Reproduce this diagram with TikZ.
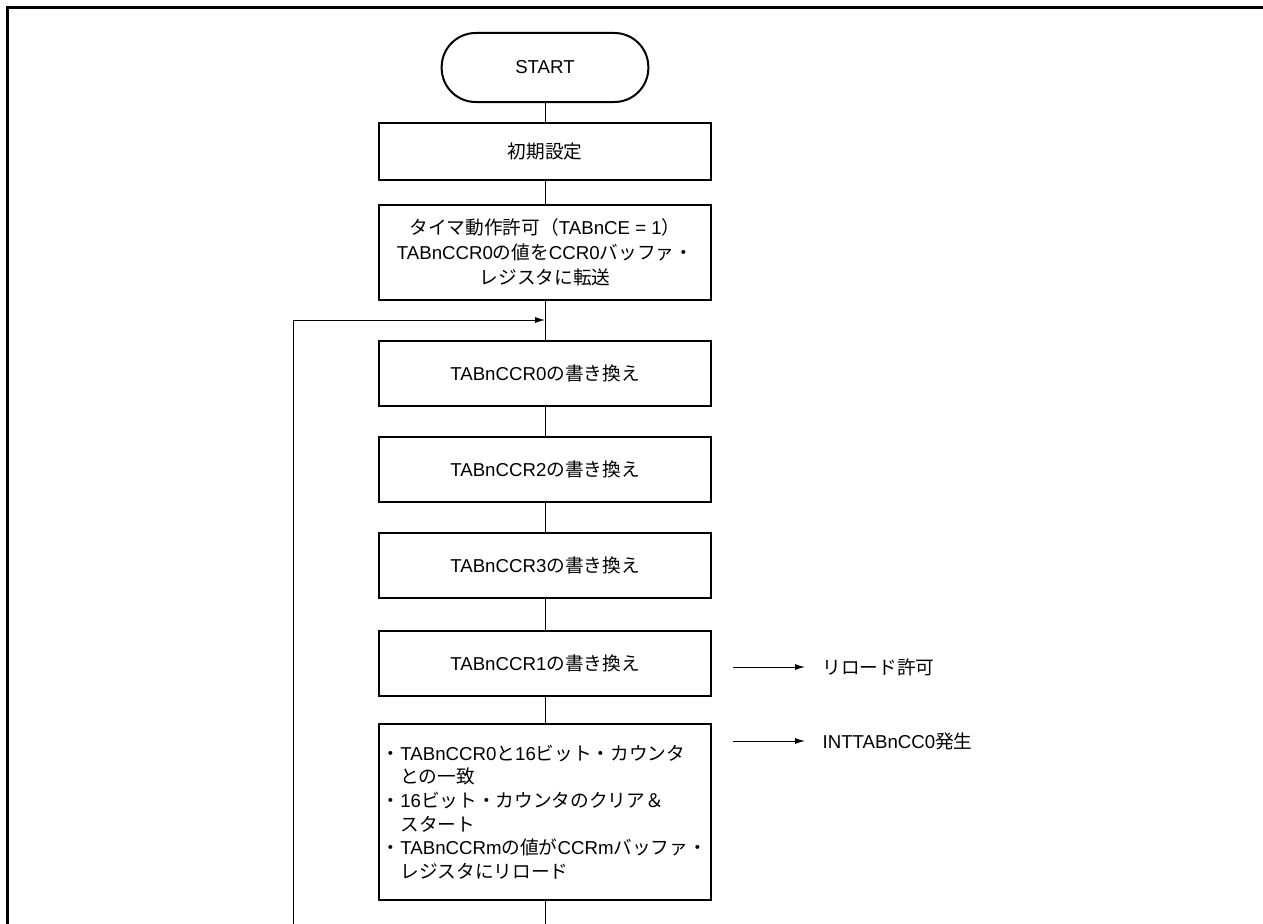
\documentclass[tikz,border=0pt]{standalone}
\usepackage{fontspec}
\setmainfont{Liberation Sans}
\newfontfamily\jpfont{Noto Sans CJK JP}
\newcommand{\jp}[1]{{\jpfont #1}}
\usetikzlibrary{arrows.meta,positioning}

\tikzset{
  procbox/.style={draw,line width=1.5pt,outer sep=0pt,minimum width=249pt,minimum height=48.75pt,inner sep=0pt,align=center},
  flowline/.style={line width=0.75pt},
  sidelbl/.style={anchor=west,inner xsep=13pt,inner ysep=0pt},
}

\begin{document}
\begin{tikzpicture}[x=0.75pt,y=-0.75pt,font=\fontsize{14pt}{18.75pt}\selectfont,>={Latex[length=7.5pt,width=4.5pt]}]
  \useasboundingbox (0,0) rectangle (1263,924);
  % frame
  \draw[line width=2.25pt] (7,924) -- (7,8) -- (1263,8);
  % flow
  \node[draw,line width=1.5pt,outer sep=0pt,rounded corners=25.5pt,minimum width=155pt,minimum height=51.75pt] (start) at (545,67.5) {START};
  \node[procbox,minimum height=42.75pt,below=15.75pt of start] (init) {\jp{初期設定}};
  \node[procbox,minimum height=71.25pt,below=18.75pt of init] (xfer) {\jp{タイマ動作許可（}TABnCE = 1\jp{）}\\TABnCCR0\jp{の値を}CCR0\jp{バッファ・}\\\jp{レジスタに転送}};
  \node[procbox,below=30.75pt of xfer] (ccr0) {TABnCCR0\jp{の書き換え}};
  \node[procbox,below=23.25pt of ccr0] (ccr2) {TABnCCR2\jp{の書き換え}};
  \node[procbox,below=23.25pt of ccr2] (ccr3) {TABnCCR3\jp{の書き換え}};
  \node[procbox,below=24.75pt of ccr3] (ccr1) {TABnCCR1\jp{の書き換え}};
  \node[procbox,minimum height=132pt,align=left,text width=245pt,inner xsep=2pt,below=21pt of ccr1,font=\fontsize{14pt}{17.7pt}\selectfont] (match) {\jp{・}TABnCCR0\jp{と}16\jp{ビット・カウンタ}\\\jp{　との一致}\\\jp{・}16\jp{ビット・カウンタのクリア＆}\\\jp{　スタート}\\\jp{・}TABnCCRm\jp{の値が}CCRm\jp{バッファ・}\\\jp{　レジスタにリロード}};
  \draw[flowline] (start) -- (init);
  \draw[flowline] (init) -- (xfer);
  \draw[flowline] (xfer) -- (ccr0);
  \draw[flowline] (ccr0) -- (ccr2);
  \draw[flowline] (ccr2) -- (ccr3);
  \draw[flowline] (ccr3) -- (ccr1);
  \draw[flowline] (ccr1) -- (match);
  \coordinate (bot) at (545,924);
  \draw[flowline] (match) -- (bot);
  % loop back
  \coordinate (loopend) at (293,924);
  \coordinate (loopin) at (545,320);
  \draw[flowline,->] (loopend) |- (loopin);
  % side notes
  \coordinate (r0) at (733,667);
  \node[sidelbl] (reload) at (805,667) {\jp{リロード許可}};
  \draw[flowline,->] (r0) -- (reload.west);
  \coordinate (i0) at (733,741);
  \node[sidelbl] (intcc) at (805,741) {INTTABnCC0\jp{発生}};
  \draw[flowline,->] (i0) -- (intcc.west);
\end{tikzpicture}
\end{document}
